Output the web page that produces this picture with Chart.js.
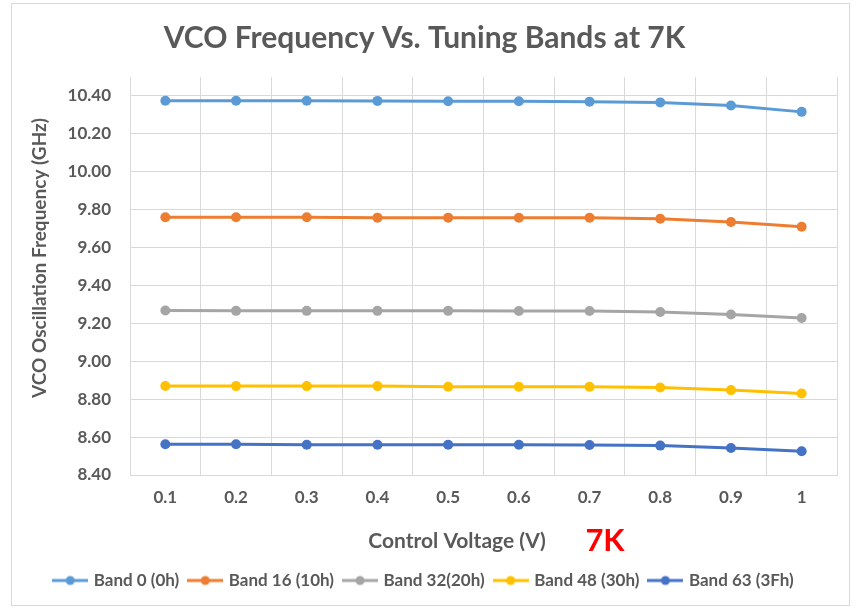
<!DOCTYPE html>
<html>
<head>
<meta charset="utf-8">
<script src="https://cdn.jsdelivr.net/npm/chart.js@4/dist/chart.umd.min.js"></script>
<style>
  html, body { margin: 0; padding: 0; background: #ffffff; }
  #wrap { width: 859px; height: 610px; }
</style>
</head>
<body>
<div id="wrap"><canvas id="c" width="859" height="610"></canvas></div>
<script>
// ---- data ----
const categories = ['0.1', '0.2', '0.3', '0.4', '0.5', '0.6', '0.7', '0.8', '0.9', '1'];
const seriesNames = ['Band 0 (0h)', 'Band 16 (10h)', 'Band 32(20h)', 'Band 48 (30h)', 'Band 63 (3Fh)'];
const band0  = [10.375, 10.375, 10.375, 10.374, 10.372, 10.372, 10.370, 10.366, 10.350, 10.316];
const band16 = [9.760, 9.760, 9.760, 9.758, 9.758, 9.757, 9.757, 9.752, 9.735, 9.710];
const band32 = [9.268, 9.266, 9.266, 9.266, 9.266, 9.265, 9.265, 9.260, 9.247, 9.228];
const band48 = [8.870, 8.869, 8.869, 8.869, 8.866, 8.866, 8.866, 8.862, 8.848, 8.830];
const band63 = [8.562, 8.562, 8.560, 8.560, 8.560, 8.560, 8.558, 8.555, 8.542, 8.525];
const yTickLabels = ['8.40', '8.60', '8.80', '9.00', '9.20', '9.40', '9.60', '9.80', '10.00', '10.20', '10.40'];
const chartTitle = 'VCO Frequency Vs. Tuning Bands at 7K';
const xTitle = 'Control Voltage (V)';
const yTitle = 'VCO Oscillation Frequency (GHz)';
const noteText = '7K';

// ---- styles ----
const colors = ['#5B9BD5', '#ED7D31', '#A5A5A5', '#FFC000', '#4472C4'];
const seriesData = [band0, band16, band32, band48, band63];
const textColor = '#595959';
const gridColor = '#D9D9D9';
const FONT = 'Lato, "Open Sans", sans-serif';

function legendIcon(color) {
  const cv = document.createElement('canvas');
  cv.width = 36; cv.height = 12;
  const g = cv.getContext('2d');
  g.strokeStyle = color; g.lineWidth = 3;
  g.beginPath(); g.moveTo(0, 6); g.lineTo(36, 6); g.stroke();
  g.fillStyle = color;
  g.beginPath(); g.arc(18, 6, 4.5, 0, Math.PI * 2); g.fill();
  return cv;
}
const icons = colors.map(legendIcon);

const decor = {
  id: 'decor',
  beforeDraw(chart) {
    const ctx = chart.ctx;
    ctx.save();
    ctx.fillStyle = '#ffffff';
    ctx.fillRect(0, 0, chart.width, chart.height);
    ctx.strokeStyle = gridColor; ctx.lineWidth = 1;
    ctx.strokeRect(11.5, 3.5, 838, 602);
    ctx.restore();
  },
  afterDraw(chart) {
    const ctx = chart.ctx;
    ctx.save();
    ctx.textAlign = 'center'; ctx.textBaseline = 'middle';
    ctx.fillStyle = textColor;
    ctx.font = 'bold 21px ' + FONT;
    ctx.fillText(xTitle, 457, 541);
    ctx.save();
    ctx.translate(40, 258);
    ctx.rotate(-Math.PI / 2);
    ctx.font = 'bold 19px ' + FONT;
    ctx.fillText(yTitle, 0, 0);
    ctx.restore();
    ctx.fillStyle = '#FF0000';
    ctx.font = 'bold 31px ' + FONT;
    ctx.fillText(noteText, 605, 541);
    ctx.restore();
  }
};

new Chart(document.getElementById('c'), {
  type: 'line',
  data: {
    labels: categories,
    datasets: seriesData.map((d, i) => ({
      label: seriesNames[i],
      data: d,
      borderColor: colors[i],
      backgroundColor: colors[i],
      borderWidth: 3,
      pointRadius: 5,
      pointHoverRadius: 5,
      pointBorderWidth: 0,
      pointStyle: 'circle',
      tension: 0,
      fill: false
    }))
  },
  options: {
    responsive: false,
    animation: false,
    layout: { padding: { left: 12, right: 22, top: 0, bottom: 11 } },
    plugins: {
      title: {
        display: true,
        text: chartTitle,
        color: textColor,
        font: { family: FONT, size: 30, weight: 'bold' },
        padding: { top: 20, bottom: 21 }
      },
      legend: {
        position: 'bottom',
        labels: {
          usePointStyle: true,
          pointStyleWidth: 30,
          padding: 11,
          color: textColor,
          font: { family: FONT, size: 17, weight: 'bold' },
          generateLabels(chart) {
            return Chart.defaults.plugins.legend.labels.generateLabels(chart)
              .map((l, i) => Object.assign(l, { pointStyle: icons[i] }));
          }
        }
      },
      tooltip: { enabled: false }
    },
    scales: {
      x: {
        offset: true,
        grid: { color: gridColor, offset: true, drawTicks: false },
        border: { color: gridColor },
        ticks: { color: textColor, padding: 12, font: { family: FONT, size: 17, weight: 'bold' } },
        afterFit(s) { s.height = 86; }
      },
      y: {
        min: 8.4,
        max: 10.5,
        grid: { color: gridColor, drawTicks: false },
        border: { color: gridColor },
        ticks: {
          padding: 19,
          color: textColor,
          font: { family: FONT, size: 17, weight: 'bold' },
          callback(v, idx) { return yTickLabels[idx]; }
        },
        afterBuildTicks(s) { s.ticks = yTickLabels.map(t => ({ value: parseFloat(t) })); },
        afterFit(s) { s.width = 118; }
      }
    }
  },
  plugins: [decor]
});
</script>
</body>
</html>
